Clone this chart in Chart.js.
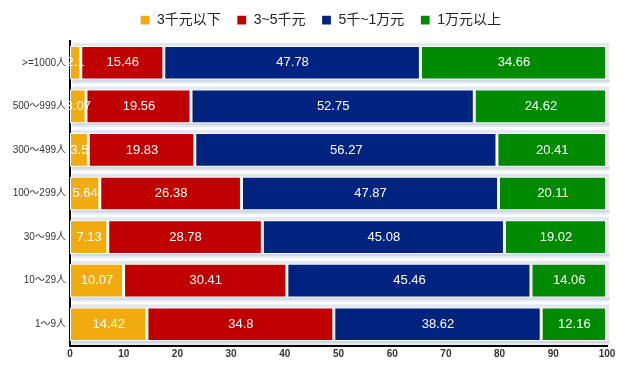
<!DOCTYPE html>
<html>
<head>
<meta charset="utf-8">
<script src="https://cdn.jsdelivr.net/npm/chart.js@4"></script>
<style>
  html, body { margin: 0; padding: 0; background: #fff; }
  #wrap { width: 628px; height: 375px; }
</style>
</head>
<body>
<div id="wrap"><canvas id="barChart" width="628" height="375"></canvas></div>
<script>
// company size categories (top to bottom)
var categories = ['>=1000人', '500～999人', '300～499人', '100～299人', '30～99人', '10～29人', '1～9人'];
var seriesNames = ['3千元以下', '3~5千元', '5千~1万元', '1万元以上'];
var below3k  = [2.1, 3.07, 3.5, 5.64, 7.13, 10.07, 14.42];
var k3to5    = [15.46, 19.56, 19.83, 26.38, 28.78, 30.41, 34.8];
var k5to10   = [47.78, 52.75, 56.27, 47.87, 45.08, 45.46, 38.62];
var above10k = [34.66, 24.62, 20.41, 20.11, 19.02, 14.06, 12.16];
var colors = ['#f2ab0e', '#c00000', '#00237f', '#008a00'];

var fontFam = '"Liberation Sans", Arial, "Noto Sans CJK SC", sans-serif';

// light shadow strip behind every bar row
var shadowPlugin = {
    id: 'shadowStrip',
    beforeDatasetsDraw: function(chart) {
        var ctx = chart.ctx;
        var x = chart.scales.x;
        var meta = chart.getDatasetMeta(0);
        ctx.save();
        meta.data.forEach(function(bar) {
            var h = bar.height;
            ctx.fillStyle = '#e2e8f0';
            ctx.fillRect(x.getPixelForValue(0) + 2, bar.y - h / 2 - 3, x.getPixelForValue(100) - x.getPixelForValue(0), h + 7);
            ctx.fillStyle = '#cfd8e2';
            ctx.fillRect(x.getPixelForValue(0) + 3, bar.y + h / 2, x.getPixelForValue(100) - x.getPixelForValue(0), 2);
        });
        ctx.restore();
    }
};

// white value labels centred in each segment
var labelPlugin = {
    id: 'segLabels',
    afterDatasetsDraw: function(chart) {
        var ctx = chart.ctx;
        ctx.save();
        ctx.font = '13px ' + fontFam;
        ctx.fillStyle = '#ffffff';
        ctx.textAlign = 'center';
        ctx.textBaseline = 'middle';
        chart.data.datasets.forEach(function(ds, i) {
            chart.getDatasetMeta(i).data.forEach(function(bar, j) {
                var cx = (bar.x + bar.base) / 2;
                ctx.fillText(String(ds.data[j]), cx, bar.y);
            });
        });
        ctx.restore();
    }
};

// a little extra room under the legend, and legend nudged right
var legendGap = {
    id: 'legendGap',
    beforeInit: function(chart) {
        var fit = chart.legend.fit;
        chart.legend.fit = function() {
            fit.bind(chart.legend)();
            this.height += 4;
        };
    },
    afterLayout: function(chart) {
        chart.legend.left += 15;
        chart.legend.right += 15;
    }
};

var seriesData = [below3k, k3to5, k5to10, above10k];
var datasets = seriesNames.map(function(name, i) {
    return {
        label: name,
        data: seriesData[i],
        backgroundColor: colors[i],
        borderColor: '#ffffff',
        borderWidth: { left: 1, right: 2, top: 1, bottom: 1 },
        borderSkipped: false,
        barPercentage: 0.84,
        categoryPercentage: 0.92
    };
});

var ctx = document.getElementById('barChart').getContext('2d');
new Chart(ctx, {
    type: 'bar',
    data: { labels: categories, datasets: datasets },
    plugins: [shadowPlugin, labelPlugin, legendGap],
    options: {
        indexAxis: 'y',
        responsive: false,
        animation: false,
        layout: { padding: { left: 4, right: 21, top: -3, bottom: 13 } },
        plugins: {
            legend: {
                position: 'top',
                labels: {
                    boxWidth: 10,
                    boxHeight: 10,
                    padding: 16,
                    color: '#222',
                    font: { size: 14, family: fontFam }
                }
            },
            tooltip: { enabled: false }
        },
        scales: {
            x: {
                stacked: true,
                min: 0,
                max: 100,
                ticks: { stepSize: 10, color: '#333', font: { size: 10, weight: 'bold', family: fontFam }, padding: 2 },
                grid: { display: false, drawTicks: false },
                border: { color: '#000', width: 2 }
            },
            y: {
                stacked: true,
                afterFit: function(scale) { scale.width = 66; },
                ticks: { color: '#333', font: { size: 10, family: fontFam }, padding: 4 },
                grid: { display: false, drawTicks: false },
                border: { color: '#000', width: 2 }
            }
        }
    }
});
</script>
</body>
</html>
